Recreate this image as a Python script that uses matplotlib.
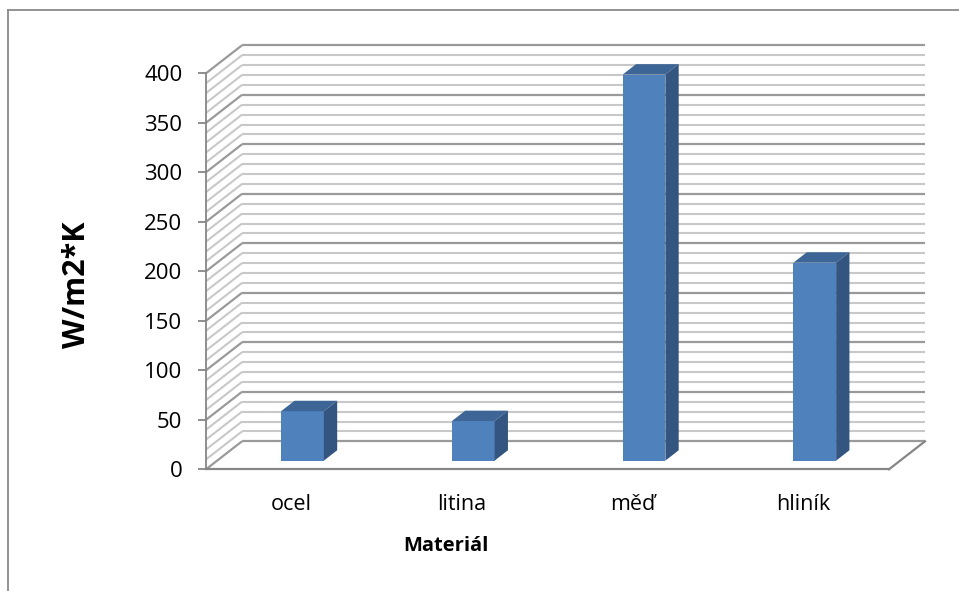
import matplotlib
matplotlib.use("Agg")
import matplotlib.pyplot as plt
from matplotlib.patches import Polygon
from matplotlib.lines import Line2D

# Thermal conductivity by material
categories = ["ocel", "litina", "měď", "hliník"]
values = [50, 40, 390, 200]
y_ticks = [0, 50, 100, 150, 200, 250, 300, 350, 400]
x_title = "Materiál"
y_title = "W/m2*K"

plt.rcParams["font.family"] = ["Open Sans", "DejaVu Sans"]

W, H = 959, 591
fig = plt.figure(figsize=(W / 100, H / 100), dpi=100)
fig.patch.set_facecolor("white")

# front plane of the 3-D plot area (pixel box)
left_px, right_px, top_px, bottom_px = 206, 889, 73.3, 469.3
ax = fig.add_axes([left_px / W, 1 - bottom_px / H,
                   (right_px - left_px) / W, (bottom_px - top_px) / H])
ax.set_xlim(-0.5, 3.5)
ax.set_ylim(0, 400)
ax.patch.set_visible(False)
for s in ("top", "right", "bottom"):
    ax.spines[s].set_visible(False)

axis_col = "#868686"
ax.spines["left"].set_color(axis_col)
ax.spines["left"].set_linewidth(1.3)
ax.set_yticks(y_ticks)
ax.tick_params(axis="y", length=6, width=1.3, color=axis_col, pad=11,
               labelsize=16, labelcolor="black")
ax.set_xticks(range(len(categories)), categories)
ax.tick_params(axis="x", length=0, pad=18, labelsize=15.5, labelcolor="black")

# depth offset of the back wall, in data units
DX = 36 / (right_px - left_px) * 4
DY = 28 / (bottom_px - top_px) * 400

# walls with gridlines
for v in range(0, 401, 10):
    major = v % 50 == 0
    col = "#9a9a9a" if major else "#c8c8c8"
    lw = 1.6 if major else 1.5
    ax.plot([-0.5 + DX, 3.5 + DX], [v + DY, v + DY], color=col, lw=lw,
            clip_on=False, zorder=1, solid_capstyle="butt")
    ax.plot([-0.5, -0.5 + DX], [v, v + DY], color=col, lw=lw,
            clip_on=False, zorder=1, solid_capstyle="butt")

# floor edges
ax.plot([-0.5, 3.5], [0, 0], color=axis_col, lw=1.6, clip_on=False, zorder=2)
ax.plot([3.5, 3.5 + DX], [0, DY], color=axis_col, lw=1.6, clip_on=False, zorder=2)

# 3-D columns
bw = 0.25
d0, d1 = 0.31, 0.68
dd = d1 - d0
front_c, top_c, side_c = "#4f81bd", "#3d6696", "#33557f"
for i, v in enumerate(values):
    x0 = i - bw / 2 + d0 * DX
    x1 = x0 + bw
    y0 = d0 * DY
    y1 = v + d0 * DY
    ox, oy = dd * DX, dd * DY
    front = Polygon([(x0, y0), (x1, y0), (x1, y1), (x0, y1)], closed=True,
                    facecolor=front_c, edgecolor="none", zorder=5, clip_on=False)
    top = Polygon([(x0, y1), (x1, y1), (x1 + ox, y1 + oy), (x0 + ox, y1 + oy)],
                  closed=True, facecolor=top_c, edgecolor="none", zorder=5,
                  clip_on=False)
    side = Polygon([(x1, y0), (x1 + ox, y0 + oy), (x1 + ox, y1 + oy), (x1, y1)],
                   closed=True, facecolor=side_c, edgecolor="none", zorder=5,
                   clip_on=False)
    for p in (front, top, side):
        ax.add_patch(p)

# axis titles
fig.text(446 / W, 1 - 546 / H, x_title, ha="center", va="center",
         fontsize=14.5, fontweight="bold")
fig.text(77 / W, 1 - 285 / H, y_title, ha="center", va="center",
         rotation=90, fontsize=22, fontweight="bold")

# chart frame
fig.add_artist(Line2D([8 / W, 8 / W], [0, 1 - 10 / H], color="#8a8a8a",
                      lw=1.3, transform=fig.transFigure))
fig.add_artist(Line2D([8 / W, 1], [1 - 10 / H, 1 - 10 / H], color="#8a8a8a",
                      lw=1.3, transform=fig.transFigure))

fig.savefig("out.png", dpi=100)
